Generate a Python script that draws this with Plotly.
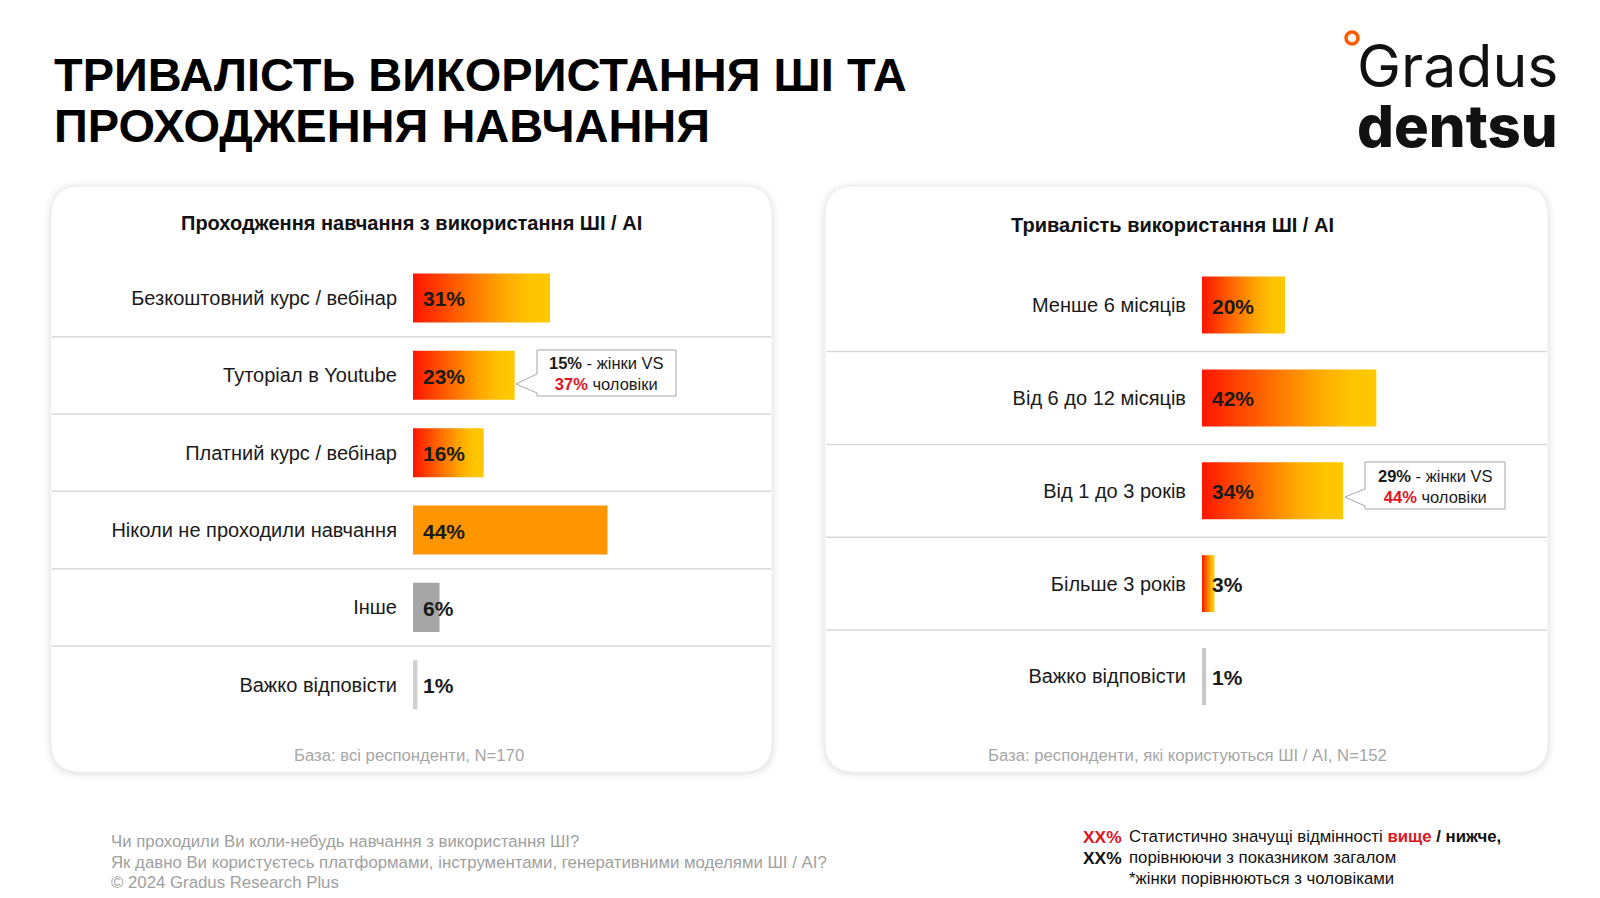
import plotly.graph_objects as go

W, H = 1600, 898

# ---------------- data ----------------
left_title = "Проходження навчання з використання ШІ / AI"
left_categories = ["Безкоштовний курс / вебінар", "Туторіал в Youtube", "Платний курс / вебінар",
                   "Ніколи не проходили навчання", "Інше", "Важко відповісти"]
left_values = [31, 23, 16, 44, 6, 1]
left_base = "База: всі респонденти, N=170"

right_title = "Тривалість використання ШІ / AI"
right_categories = ["Менше 6 місяців", "Від 6 до 12 місяців", "Від 1 до 3 років",
                    "Більше 3 років", "Важко відповісти"]
right_values = [20, 42, 34, 3, 1]
right_base = "База: респонденти, які користуються ШІ / AI, N=152"

# style per bar: "grad" = red→yellow gradient, otherwise solid colour
left_styles = ["grad", "grad", "grad", "#ff9600", "#a6a6a6", "#d0d0d0"]
right_styles = ["grad", "grad", "grad", "grad", "#c8c8c8"]

GRAD = [[0, "#ff1500"], [0.35, "#ff6400"], [0.65, "#ffa600"], [0.85, "#ffc400"], [1, "#ffc800"]]
RED = "#e0141e"
FONT = "Liberation Sans, Arial, sans-serif"


def px(x):
    return x / W


def py(y):
    return 1 - y / H


def rounded_rect(x0, y0, x1, y1, r):
    X = lambda v: f"{px(v):.6f}"
    Y = lambda v: f"{py(v):.6f}"
    return (f"M {X(x0 + r)},{Y(y0)} L {X(x1 - r)},{Y(y0)} Q {X(x1)},{Y(y0)} {X(x1)},{Y(y0 + r)} "
            f"L {X(x1)},{Y(y1 - r)} Q {X(x1)},{Y(y1)} {X(x1 - r)},{Y(y1)} "
            f"L {X(x0 + r)},{Y(y1)} Q {X(x0)},{Y(y1)} {X(x0)},{Y(y1 - r)} "
            f"L {X(x0)},{Y(y0 + r)} Q {X(x0)},{Y(y0)} {X(x0 + r)},{Y(y0)} Z")


def callout(x0, y0, x1, y1, tipx, tipy, b0, b1):
    X = lambda v: f"{px(v):.6f}"
    Y = lambda v: f"{py(v):.6f}"
    return (f"M {X(x0)},{Y(y0)} L {X(x1)},{Y(y0)} L {X(x1)},{Y(y1)} L {X(x0)},{Y(y1)} "
            f"L {X(x0)},{Y(b1)} L {X(tipx)},{Y(tipy)} L {X(x0)},{Y(b0)} Z")


fig = go.Figure()
shapes = []
annotations = []

# ---------------- panels ----------------
panels = [(51, 186, 772, 772), (825, 186, 1548, 772)]
for (x0, y0, x1, y1) in panels:
    for g, a in [(7, 0.012), (5, 0.015), (3, 0.02), (1.5, 0.03)]:
        shapes.append(dict(type="path", xref="paper", yref="paper", layer="below",
                           path=rounded_rect(x0 - g, y0 - g + 1, x1 + g, y1 + g + 1, 30 + g),
                           fillcolor=f"rgba(0,0,0,{a})", line=dict(width=0)))
    shapes.append(dict(type="path", xref="paper", yref="paper", layer="below",
                       path=rounded_rect(x0, y0, x1, y1, 30),
                       fillcolor="white", line=dict(color="#f2f2f2", width=1)))

# ---------------- geometry of the two charts ----------------
charts = [
    dict(cats=left_categories, vals=left_values, styles=left_styles, xa="x", ya="y",
         xdom=(413, 772), ppu=4.42, ytop=259.3, ybot=723.4, half=0.317, panel=panels[0]),
    dict(cats=right_categories, vals=right_values, styles=right_styles, xa="x2", ya="y2",
         xdom=(1202, 1548), ppu=4.15, ytop=258.7, ybot=722.9, half=0.307, panel=panels[1]),
]

layout_axes = {}
for k, c in enumerate(charts):
    n = len(c["cats"])
    xname = "xaxis" if k == 0 else "xaxis2"
    yname = "yaxis" if k == 0 else "yaxis2"
    xr = (c["xdom"][1] - c["xdom"][0]) / c["ppu"]
    layout_axes[xname] = dict(domain=[px(c["xdom"][0]), px(c["xdom"][1])], range=[0, xr],
                              visible=False, fixedrange=True,
                              anchor=c["ya"])
    layout_axes[yname] = dict(domain=[py(c["ybot"]), py(c["ytop"])], range=[n - 0.5, -0.5],
                              tickmode="array", tickvals=list(range(n)), ticktext=c["cats"],
                              ticks="outside", ticklen=11, tickcolor="rgba(0,0,0,0)",
                              showgrid=False, zeroline=False, showline=False,
                              tickfont=dict(family=FONT, size=20, color="#1a1a1a"),
                              fixedrange=True, anchor=c["xa"])
    for i, (v, st) in enumerate(zip(c["vals"], c["styles"])):
        h = c["half"]
        tr = dict(x=[0, v, v, 0, 0], y=[i - h, i - h, i + h, i + h, i - h],
                  mode="lines", fill="toself", line=dict(width=0, color="rgba(0,0,0,0)"),
                  hoverinfo="skip", showlegend=False, xaxis=c["xa"], yaxis=c["ya"])
        if st == "grad":
            tr["fillgradient"] = dict(type="horizontal", colorscale=GRAD)
        else:
            tr["fillcolor"] = st
        fig.add_trace(go.Scatter(**tr))
        annotations.append(dict(x=0, y=i, xref=c["xa"], yref=c["ya"], text=f"<b>{v}%</b>",
                                showarrow=False, xanchor="left", yanchor="middle", xshift=8, yshift=-1,
                                font=dict(family=FONT, size=21, color="#1a1a1a")))
    # separators
    step = (c["ybot"] - c["ytop"]) / n
    for i in range(n - 1):
        yy = c["ytop"] + (i + 1) * step
        shapes.append(dict(type="line", xref="paper", yref="paper", layer="below",
                           x0=px(c["panel"][0] + 1), x1=px(c["panel"][2] - 1), y0=py(yy), y1=py(yy),
                           line=dict(color="#d9d9d9", width=1.5)))

# ---------------- callouts ----------------
shapes.append(dict(type="path", xref="paper", yref="paper", layer="above",
                   path=callout(537, 350, 676, 396, 516, 384, 374, 393),
                   fillcolor="white", line=dict(color="#a6a6a6", width=1)))
annotations.append(dict(x=px(606), y=py(374), xref="paper", yref="paper", showarrow=False,
                        xanchor="center", yanchor="middle",
                        text=f"<b>15%</b> - жінки VS<br><b><span style='color:{RED}'>37%</span></b> чоловіки",
                        align="center", font=dict(family=FONT, size=16.5, color="#1a1a1a")))
shapes.append(dict(type="path", xref="paper", yref="paper", layer="above",
                   path=callout(1365, 462, 1505, 509, 1345, 497, 489, 506),
                   fillcolor="white", line=dict(color="#a6a6a6", width=1)))
annotations.append(dict(x=px(1435), y=py(486), xref="paper", yref="paper", showarrow=False,
                        xanchor="center", yanchor="middle",
                        text=f"<b>29%</b> - жінки VS<br><b><span style='color:{RED}'>44%</span></b> чоловіки",
                        align="center", font=dict(family=FONT, size=16.5, color="#1a1a1a")))


# ---------------- texts ----------------
def txt(x, y, text, size, color="#000", xanchor="left", family=FONT, weight=None):
    f = dict(family=family, size=size, color=color)
    if weight:
        f["weight"] = weight
    annotations.append(dict(x=px(x), y=py(y), xref="paper", yref="paper", text=text, showarrow=False,
                            xanchor=xanchor, yanchor="middle", align="left" if xanchor == "left" else "center",
                            font=f))


txt(52, 75, "<b>ТРИВАЛІСТЬ ВИКОРИСТАННЯ ШІ ТА</b>", 47)
txt(52, 126, "<b>ПРОХОДЖЕННЯ НАВЧАННЯ</b>", 47)

txt(411, 223, f"<b>{left_title}</b>", 20, "#111", "center")
txt(1172, 225, f"<b>{right_title}</b>", 20, "#111", "center")
txt(409, 755, left_base, 16.7, "#a6a6a6", "center")
txt(1187, 755, right_base, 16.7, "#a6a6a6", "center")

# logo (one text block, two lines)
txt(1355, 95, "<span style='font-size:59px'>Gradus</span><br>"
              "<span style='font-size:58px;font-weight:800'>dentsu</span>",
    46, "#111", family="Inter, Arial, sans-serif")
shapes.append(dict(type="circle", xref="paper", yref="paper",
                   x0=px(1346), x1=px(1358), y0=py(44), y1=py(32),
                   fillcolor="white", line=dict(color="#ff5a00", width=3.5)))

# footer left
txt(109, 841, "Чи проходили Ви коли-небудь навчання з використання ШІ?", 16.8, "#a0a0a0")
txt(109, 862, "Як давно Ви користуєтесь платформами, інструментами, генеративними моделями ШІ / AI?", 16.8, "#a0a0a0")
txt(109, 882, "© 2024 Gradus Research Plus", 16.8, "#a0a0a0")

# legend right
txt(1081, 837, f"<b><span style='color:{RED}'>XX%</span></b>", 17.4)
txt(1081, 858, "<b>XX%</b>", 17.4, "#111")
txt(1127, 836, f"Статистично значущі відмінності <b><span style='color:{RED}'>вище</span></b> <b>/ нижче,</b>", 16.8, "#111")
txt(1127, 857, "порівнюючи з показником загалом", 16.8, "#111")
txt(1127, 878, "*жінки порівнюються з чоловіками", 16.8, "#111")

fig.update_layout(width=W, height=H, margin=dict(l=0, r=0, t=0, b=0),
                  paper_bgcolor="white", plot_bgcolor="rgba(0,0,0,0)",
                  shapes=shapes, annotations=annotations, showlegend=False,
                  **layout_axes)

fig.write_html("out.html", config=dict(displayModeBar=False),
               post_script="document.body.style.margin='0';document.body.style.padding='0';")
